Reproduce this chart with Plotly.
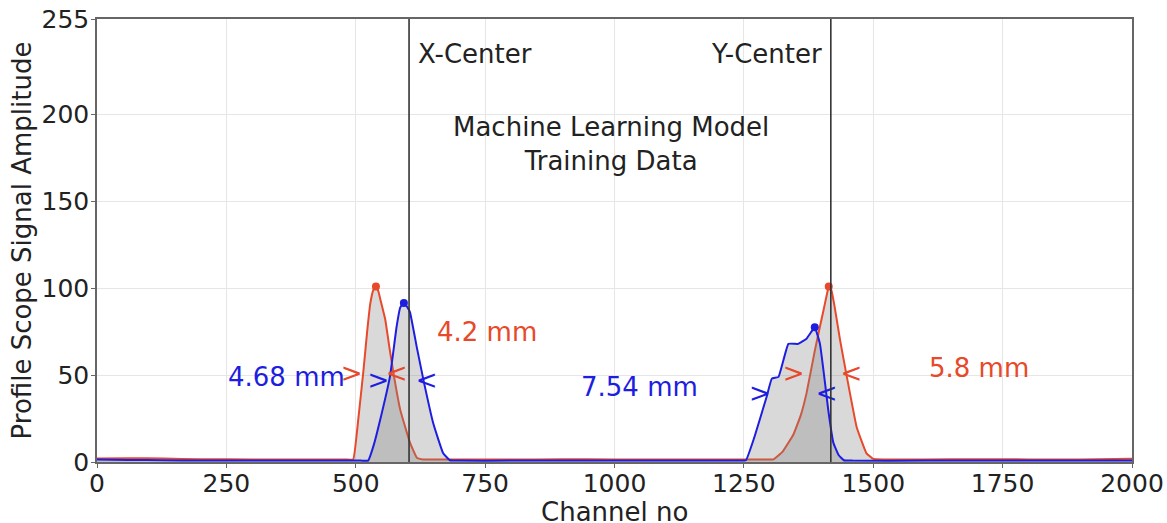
import plotly.graph_objects as go

# ---- data ----
red_x = [0, 60, 130, 200, 300, 400, 480, 495, 505, 515, 522, 528, 534, 539, 544, 548, 557, 565, 573, 586, 605, 618, 630,
         700, 800, 900, 1000, 1100, 1200, 1290, 1307, 1325, 1346, 1360, 1371, 1387, 1397, 1404, 1410, 1414, 1419, 1425,
         1436, 1449, 1468, 1487, 1500, 1520, 1600, 1700, 1800, 1900, 2000]
red_y = [2.0, 2.2, 2.0, 1.6, 1.5, 1.5, 1.5, 1.5, 25, 53, 75, 91, 99, 101, 98, 93, 82, 66, 51, 30, 11, 2.5, 1.5,
         1.5, 1.4, 1.6, 1.5, 1.5, 1.5, 1.5, 1.5, 6, 16, 27, 39.5, 64, 78, 87.5, 96, 101, 99, 90,
         70, 49, 20, 5, 1.8, 1.5, 1.5, 1.6, 1.5, 1.5, 1.8]

blue_x = [0, 60, 130, 200, 300, 400, 510, 524, 535, 547, 566, 579, 586, 593, 600, 605, 618, 631, 650, 669, 682,
          700, 800, 900, 1000, 1100, 1200, 1240, 1254, 1270, 1294, 1304, 1317, 1336, 1355, 1371, 1387,
          1397, 1407, 1413, 1423, 1433, 1443, 1460, 1600, 1700, 1800, 1900, 2000]
blue_y = [1.5, 1.2, 1.0, 0.8, 0.8, 0.8, 0.8, 0.8, 10, 24, 49, 78, 89, 91.5, 89, 86, 66, 47, 22, 5, 1.0,
          0.8, 0.8, 0.8, 0.8, 0.8, 0.8, 0.8, 1.0, 14, 37.6, 48, 49, 68, 68, 71, 77.5,
          68, 45, 30, 11, 4, 1.0, 0.8, 0.8, 0.8, 0.8, 0.8, 0.8]

centers = [603, 1418]
center_labels = ["X-Center", "Y-Center"]

# FWHM chevrons (x, y, symbol)
red_fwhm_x = [492, 579, 1346, 1458]
red_fwhm_y = [50, 50, 50, 50]
red_fwhm_t = [">", "<", ">", "<"]
blue_fwhm_x = [544, 637, 1281, 1410]
blue_fwhm_y = [45.5, 45.5, 38, 38]
blue_fwhm_t = [">", "<", ">", "<"]

width_labels = ["4.68 mm", "4.2 mm", "7.54 mm", "5.8 mm"]
width_x = [366, 754, 1049, 1704]
width_y = [49, 75, 43, 54]
width_colors = ["blue", "red", "blue", "red"]

RED = "#e8492a"
BLUE = "#1e1ee0"
FONT = "DejaVu Sans"
TXT = 26

fig = go.Figure()

for xs, ys, col in [(red_x, red_y, RED), (blue_x, blue_y, BLUE)]:
    fig.add_trace(go.Scatter(x=xs, y=ys, mode="lines", fill="tozeroy",
                             fillcolor="rgba(128,128,128,0.30)",
                             line=dict(color=col, width=2, shape="spline", smoothing=0.3),
                             hoverinfo="skip", showlegend=False))

# peak dots (local maxima of each hump)
def peaks(xs, ys, split=1000):
    out_x, out_y = [], []
    for lo, hi in [(0, split), (split, 2001)]:
        pts = [(y, x) for x, y in zip(xs, ys) if lo <= x < hi]
        y, x = max(pts)
        out_x.append(x)
        out_y.append(y)
    return out_x, out_y

for xs, ys, col in [(red_x, red_y, RED), (blue_x, blue_y, BLUE)]:
    px, py = peaks(xs, ys)
    fig.add_trace(go.Scatter(x=px, y=py, mode="markers",
                             marker=dict(color=col, size=8), showlegend=False, hoverinfo="skip"))

for xs, ys, ts, col in [(red_fwhm_x, red_fwhm_y, red_fwhm_t, RED), (blue_fwhm_x, blue_fwhm_y, blue_fwhm_t, BLUE)]:
    fig.add_trace(go.Scatter(x=xs, y=ys, mode="text", text=ts,
                             textfont=dict(color=col, size=26, family=FONT),
                             showlegend=False, hoverinfo="skip"))

for c in centers:
    fig.add_vline(x=c, line=dict(color="#333333", width=1.6))

fig.add_annotation(x=centers[0] + 14, y=235, text=center_labels[0], showarrow=False,
                   xanchor="left", font=dict(size=TXT, color="#222", family=FONT))
fig.add_annotation(x=centers[1] - 14, y=235, text=center_labels[1], showarrow=False,
                   xanchor="right", font=dict(size=TXT, color="#222", family=FONT))
fig.add_annotation(x=993, y=183, text="Machine Learning Model<br>Training Data", showarrow=False,
                   align="center", font=dict(size=TXT, color="#222", family=FONT))

for t, x, y, c in zip(width_labels, width_x, width_y, width_colors):
    fig.add_annotation(x=x, y=y, text=t, showarrow=False,
                       font=dict(size=TXT, color=RED if c == "red" else BLUE, family=FONT))

# x-axis title placed just below the tick labels
fig.add_annotation(x=0.5, y=-0.113, xref="paper", yref="paper", text="Channel no",
                   showarrow=False, yanchor="middle",
                   font=dict(size=TXT, color="#222", family=FONT))

axis_common = dict(showline=True, linecolor="#666", linewidth=1.5, mirror=True,
                   showgrid=True, gridcolor="#e6e6e6", gridwidth=1, zeroline=False,
                   ticks="outside", ticklen=4, tickcolor="#666", automargin=False,
                   ticklabeloverflow="allow",
                   tickfont=dict(size=25, color="#222", family=FONT))

fig.update_layout(
    width=1167, height=523,
    margin=dict(l=97, r=35, t=19, b=61),
    paper_bgcolor="white", plot_bgcolor="white",
    font=dict(family=FONT),
    xaxis=dict(range=[0, 2000], tickvals=[0, 250, 500, 750, 1000, 1250, 1500, 1750, 2000],
               ticklabelstandoff=-6,
               **axis_common),
    yaxis=dict(range=[0, 255], tickvals=[0, 50, 100, 150, 200, 255],
               ticklabelstandoff=-3,
               title=dict(text="Profile Scope Signal Amplitude", font=dict(size=TXT, color="#222", family=FONT), standoff=2),
               **axis_common),
)

fig.write_html("out.html", config={"displayModeBar": False},
               post_script="document.body.style.margin='0px';")
